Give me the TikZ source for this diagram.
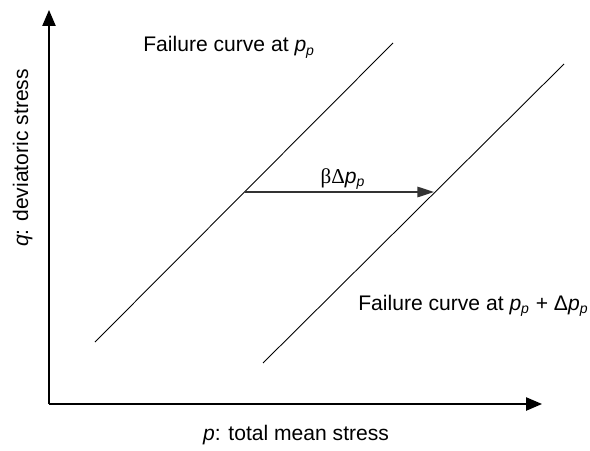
\documentclass[tikz,border=0pt]{standalone}
\usepackage{fontspec}
\setmainfont{Liberation Sans}
\newfontfamily\greekfont{Liberation Serif}
\usepackage{tikz}
\usetikzlibrary{arrows.meta}

\begin{document}
\begin{tikzpicture}[x=0.02cm, y=0.02cm,
    axis/.style={line width=0.75pt, -{Triangle[length=9pt, width=7.5pt]}},
    failline/.style={line width=0.5pt},
    shiftarrow/.style={line width=0.8pt, black!80, -{Triangle[length=9.5pt, width=6pt]}},
    lbl/.style={font=\fontsize{12}{14}\selectfont, inner sep=0pt}]
    \useasboundingbox (0,0) rectangle (590,450);
    \coordinate (O) at (49,46);
    \coordinate (Q) at (49,440);
    \coordinate (P) at (542,46);
    \coordinate (A1) at (95,108);
    \coordinate (B1) at (393,407);
    \coordinate (A2) at (263,87);
    \coordinate (B2) at (564,386);
    \coordinate (S) at (245,258);
    \coordinate (T) at (434,258);
    \draw[axis] (O) -- (Q);
    \draw[axis] (O) -- (P);
    \draw[failline] (A1) -- (B1);
    \draw[failline] (A2) -- (B2);
    \draw[shiftarrow] (S) -- (T);
    \node[lbl, anchor=base west] (fc1) at (143,398) {Failure curve at \textit{p}\textsubscript{\textit{p}}};
    \node[lbl, anchor=base] (shift) at (343,267) {{\greekfont βΔ}\textit{p}\textsubscript{\textit{p}}};
    \node[lbl, anchor=base west] (fc2) at (358,140) {Failure curve at \textit{p}\textsubscript{\textit{p}} + Δ\textit{p}\textsubscript{\textit{p}}};
    \node[lbl, anchor=base] (xlab) at (296,10) {\textit{p}: total mean stress};
    \node[lbl, anchor=base, rotate=90] (ylab) at (28,292) {\textit{q}: deviatoric stress};
\end{tikzpicture}
\end{document}
